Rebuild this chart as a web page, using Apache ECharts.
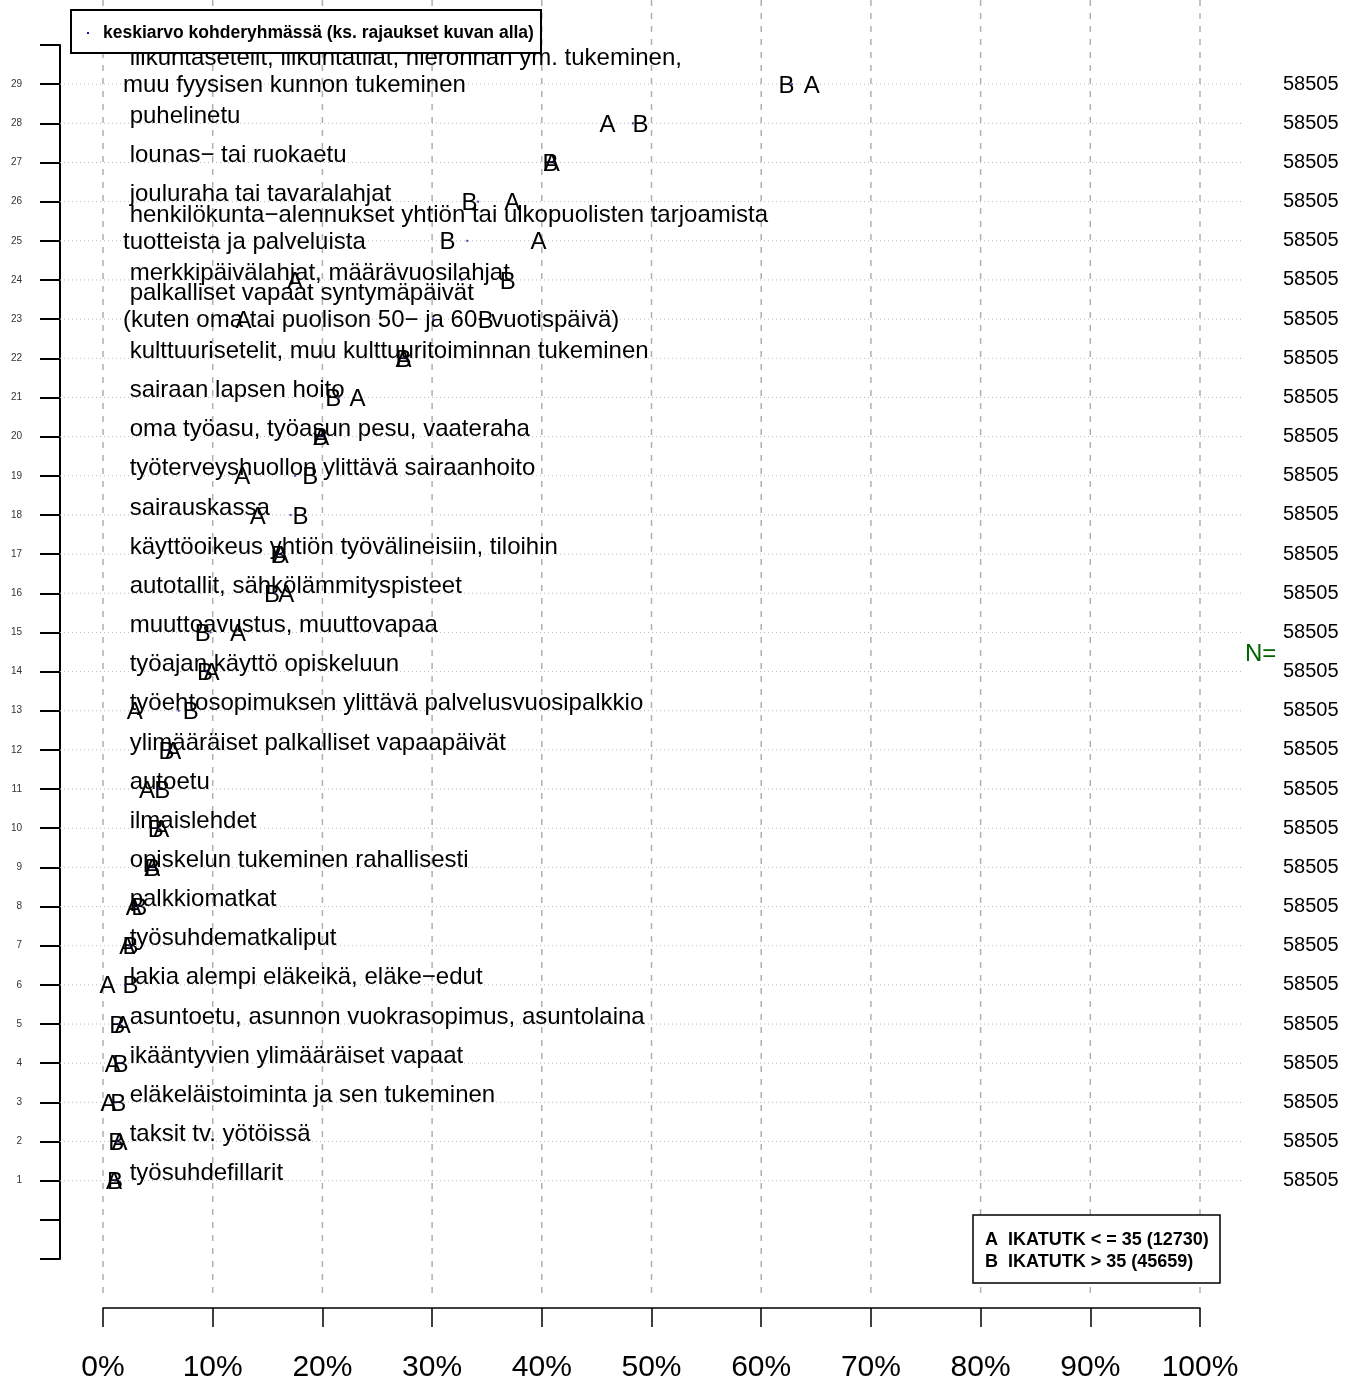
<!DOCTYPE html>
<html>
<head>
<meta charset="utf-8">
<script src="https://cdn.jsdelivr.net/npm/echarts@6/dist/echarts.min.js"></script>
<style>
html,body{margin:0;padding:0;background:#fff;}
#chart{width:1355px;height:1383px;}
</style>
</head>
<body>
<div id="chart"></div>
<script>
// ---- data (row 1 at bottom .. row 29 at top) ----
const labels = [
  "työsuhdefillarit",
  "taksit tv. yötöissä",
  "eläkeläistoiminta ja sen tukeminen",
  "ikääntyvien ylimääräiset vapaat",
  "asuntoetu, asunnon vuokrasopimus, asuntolaina",
  "lakia alempi eläkeikä, eläke−edut",
  "työsuhdematkaliput",
  "palkkiomatkat",
  "opiskelun tukeminen rahallisesti",
  "ilmaislehdet",
  "autoetu",
  "ylimääräiset palkalliset vapaapäivät",
  "työehtosopimuksen ylittävä palvelusvuosipalkkio",
  "työajan käyttö opiskeluun",
  "muuttoavustus, muuttovapaa",
  "autotallit, sähkölämmityspisteet",
  "käyttöoikeus yhtiön työvälineisiin, tiloihin",
  "sairauskassa",
  "työterveyshuollon ylittävä sairaanhoito",
  "oma työasu, työasun pesu, vaateraha",
  "sairaan lapsen hoito",
  "kulttuurisetelit, muu kulttuuritoiminnan tukeminen",
  "palkalliset vapaat syntymäpäivät\n(kuten oma tai puolison 50− ja 60−vuotispäivä)",
  "merkkipäivälahjat, määrävuosilahjat",
  "henkilökunta−alennukset yhtiön tai ulkopuolisten tarjoamista\ntuotteista ja palveluista",
  "jouluraha tai tavaralahjat",
  "lounas− tai ruokaetu",
  "puhelinetu",
  "liikuntasetelit, liikuntatilat, hieronnan ym. tukeminen,\nmuu fyysisen kunnon tukeminen"
];
// group A: IKATUTK <= 35, % values
const valA = [1.0, 1.5, 0.5, 0.9, 1.8, 0.4, 2.2, 2.8, 4.5, 5.3, 4.0, 6.4, 2.9, 9.9, 12.3, 16.7, 16.2, 14.1, 12.7, 19.9, 23.2, 27.4, 12.8, 17.5, 39.7, 37.3, 40.9, 46.0, 64.6];
// group B: IKATUTK > 35, % values
const valB = [1.1, 1.2, 1.4, 1.6, 1.3, 2.5, 2.5, 3.3, 4.5, 4.8, 5.4, 5.8, 8.0, 9.3, 9.1, 15.4, 16.0, 18.0, 18.9, 19.8, 21.0, 27.4, 34.9, 36.9, 31.4, 33.4, 40.8, 49.0, 62.3];
// mean in target group (small blue dots)
const valMean = [1.1, 1.3, 1.2, 1.5, 1.4, 2.0, 2.4, 3.2, 4.5, 4.9, 5.1, 5.9, 6.9, 9.4, 9.8, 15.7, 16.0, 17.1, 17.5, 19.8, 21.5, 27.4, 30.1, 32.7, 33.2, 34.2, 40.8, 48.3, 62.8];
const nValues = [58505,58505,58505,58505,58505,58505,58505,58505,58505,58505,58505,58505,58505,58505,58505,58505,58505,58505,58505,58505,58505,58505,58505,58505,58505,58505,58505,58505,58505];
const xTicks = [0,10,20,30,40,50,60,70,80,90,100];
const legendTop = "keskiarvo kohderyhmässä (ks. rajaukset kuvan alla)";
const legendGroups = ["A  IKATUTK < = 35 (12730)", "B  IKATUTK > 35 (45659)"];

const FONT = '"Liberation Sans", Arial, Helvetica, sans-serif';
const chart = echarts.init(document.getElementById('chart'), null, {renderer: 'canvas'});

const rowData = labels.map((l, i) => [0, i + 1]);

function letterSeries(name, vals, letter) {
  return {
    type: 'custom', name: name, z: 5, silent: true,
    data: vals.map((v, i) => [v, i + 1]),
    renderItem: function (params, api) {
      const p = api.coord([api.value(0), api.value(1)]);
      return {
        type: 'text', x: p[0], y: p[1] + 2,
        style: {text: letter, font: '24px ' + FONT, fill: '#000', align: 'center', verticalAlign: 'middle'}
      };
    }
  };
}

const option = {
  animation: false,
  backgroundColor: '#fff',
  grid: {left: 103, right: 155, top: 45, bottom: 122},
  xAxis: {
    type: 'value', min: 0, max: 100, interval: 10, offset: 49, position: 'bottom',
    axisLine: {show: true, onZero: false, lineStyle: {color: '#000', width: 1.5}},
    axisTick: {show: true, length: 19, lineStyle: {color: '#000', width: 1.5}},
    axisLabel: {formatter: '{value}%', fontSize: 30, fontFamily: FONT, color: '#000', margin: 45},
    splitLine: {show: false}
  },
  yAxis: [
    {
      type: 'value', min: -1, max: 30, interval: 1, offset: 43, position: 'left',
      axisLine: {show: true, onZero: false, lineStyle: {color: '#000', width: 2}},
      axisTick: {show: true, length: 20, lineStyle: {color: '#000', width: 2}},
      axisLabel: {
        formatter: v => (v >= 1 && v <= 29) ? String(v) : '',
        fontSize: 10, fontFamily: FONT, color: '#333', margin: 38
      },
      splitLine: {show: false}
    },
    {
      type: 'value', min: -1, max: 30, interval: 1, position: 'right',
      axisLine: {show: false, onZero: false}, axisTick: {show: false},
      axisLabel: {
        formatter: v => (v >= 1 && v <= 29) ? String(nValues[v - 1]) : '',
        fontSize: 20, fontFamily: FONT, color: '#000', margin: 83
      },
      splitLine: {show: false}
    }
  ],
  series: [
    {
      type: 'custom', name: 'hgrid', z: 1, silent: true,
      data: rowData,
      renderItem: function (params, api) {
        const a = api.coord([0, api.value(1)]);
        const b = api.coord([100, api.value(1)]);
        return {
          type: 'line',
          shape: {x1: a[0] - 43, y1: a[1], x2: b[0] + 42, y2: b[1]},
          style: {stroke: '#b8b8b8', lineWidth: 1, lineDash: [1, 3]}
        };
      }
    },
    {
      type: 'custom', name: 'vgrid', z: 1, silent: true,
      data: xTicks.map(v => [v, 0]),
      renderItem: function (params, api) {
        const t = api.coord([api.value(0), 30]);
        const b = api.coord([api.value(0), -1]);
        return {
          type: 'line',
          shape: {x1: t[0], y1: t[1] - 45, x2: b[0], y2: b[1] + 41},
          style: {stroke: '#b0b0b0', lineWidth: 1.5, lineDash: [6, 7]}
        };
      }
    },
    {
      type: 'custom', name: 'labels', z: 4, silent: true,
      data: rowData,
      renderItem: function (params, api) {
        const p = api.coord([0, api.value(1)]);
        const txt = labels[params.dataIndex];
        const lines = txt.split('\n');
        const text = ' ' + txt;
        if (lines.length === 1) {
          return {type: 'text', x: p[0] + 20, y: p[1] - 7,
            style: {text: text, font: '24px ' + FONT, fill: '#000', align: 'left', verticalAlign: 'middle'}};
        }
        return {type: 'text', x: p[0] + 20, y: p[1] + 15,
          style: {text: text, font: '24px ' + FONT, fill: '#000', align: 'left', verticalAlign: 'bottom', lineHeight: 27}};
      }
    },
    letterSeries('B', valB, 'B'),
    letterSeries('A', valA, 'A'),
    {
      type: 'scatter', name: 'keskiarvo', z: 6, silent: true,
      symbol: 'rect', symbolSize: 2,
      itemStyle: {color: '#1a1aa0'},
      data: valMean.map((v, i) => [v, i + 1])
    }
  ],
  graphic: [
    {type: 'rect', shape: {x: 71, y: 10, width: 470, height: 43}, style: {fill: '#fff', stroke: '#000', lineWidth: 2}, z: 10},
    {type: 'rect', shape: {x: 87, y: 32, width: 2, height: 2}, style: {fill: '#1a1aa0'}, z: 11},
    {type: 'text', x: 103, y: 33, style: {text: legendTop, font: 'bold 17.5px ' + FONT, fill: '#000', verticalAlign: 'middle', align: 'left'}, z: 11},
    {type: 'rect', shape: {x: 973, y: 1215, width: 247, height: 68}, style: {fill: '#fff', stroke: '#000', lineWidth: 1.5}, z: 10},
    {type: 'text', x: 985, y: 1240, style: {text: legendGroups[0], font: 'bold 18px ' + FONT, fill: '#000', verticalAlign: 'middle', align: 'left'}, z: 11},
    {type: 'text', x: 985, y: 1262, style: {text: legendGroups[1], font: 'bold 18px ' + FONT, fill: '#000', verticalAlign: 'middle', align: 'left'}, z: 11},
    {type: 'text', x: 1245, y: 654, style: {text: 'N=', font: '24px ' + FONT, fill: '#006400', verticalAlign: 'middle', align: 'left'}, z: 11}
  ]
};
chart.setOption(option);
</script>
</body>
</html>
